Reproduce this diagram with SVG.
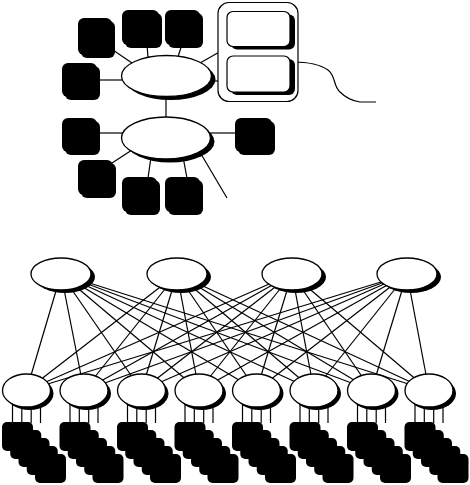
<svg xmlns="http://www.w3.org/2000/svg" xmlns:xlink="http://www.w3.org/1999/xlink" width="470" height="485" viewBox="0 0 470 485">
<style>
.bg{fill:#fff}
.ln{stroke:#000;stroke-width:1.2;fill:none}
.sh{fill:#000}
.body{fill:#fff;stroke:#000;stroke-width:1.3}
.blk{fill:#000}
.frame{fill:#fff;stroke:#000;stroke-width:1.2}
</style>
<defs>
<g id="stack">
<rect x="33" y="32" width="31" height="29" rx="5" class="blk"/>
<rect x="24.75" y="24" width="31" height="29" rx="5" class="blk"/>
<rect x="16.5" y="16" width="31" height="29" rx="5" class="blk"/>
<rect x="8.25" y="8" width="31" height="29" rx="5" class="blk"/>
<rect x="0" y="0" width="31" height="29" rx="5" class="blk"/>
</g>
<g id="leaf">
<line x1="-14" y1="400" x2="-14" y2="423" class="ln"/>
<line x1="-4.7" y1="400" x2="-4.7" y2="423" class="ln"/>
<line x1="4.7" y1="400" x2="4.7" y2="423" class="ln"/>
<line x1="14" y1="400" x2="14" y2="423" class="ln"/>
<ellipse cx="3" cy="393.5" rx="24" ry="16.5" class="sh"/>
<ellipse cx="0" cy="390.5" rx="24" ry="16.5" class="body"/>
<use xlink:href="#stack" x="-24.5" y="422"/>
</g>
<g id="hub">
<ellipse cx="4" cy="3" rx="30" ry="16" class="sh"/>
<ellipse cx="0" cy="0" rx="30" ry="16" class="body"/>
</g>
</defs>
<rect width="470" height="485" class="bg"/>

<g id="connectors">
<line x1="110" y1="48" x2="132" y2="63" class="ln"/>
<line x1="147" y1="44" x2="148" y2="58" class="ln"/>
<line x1="182" y1="44" x2="178" y2="57" class="ln"/>
<line x1="96" y1="80" x2="123" y2="80" class="ln"/>
<line x1="200" y1="63" x2="230" y2="46" class="ln"/>
<line x1="210" y1="81" x2="228" y2="81" class="ln"/>
<path d="M293,62 C303,62 318,63 328,70 C336,76 333,86 340,92 C346,98 352,101 360,102 L376,102" class="ln"/>
<line x1="166" y1="94" x2="166" y2="120" class="ln"/>
<line x1="96" y1="133" x2="123" y2="133" class="ln"/>
<line x1="210" y1="133" x2="238" y2="133" class="ln"/>
<line x1="112" y1="163" x2="132" y2="150" class="ln"/>
<line x1="148" y1="178" x2="151" y2="157" class="ln"/>
<line x1="187" y1="178" x2="183" y2="157" class="ln"/>
<line x1="201" y1="154" x2="227" y2="198" class="ln"/>

<g id="mesh">
<line x1="61" y1="274" x2="26.5" y2="390.5" class="ln"/>
<line x1="61" y1="274" x2="84" y2="390.5" class="ln"/>
<line x1="61" y1="274" x2="141.5" y2="390.5" class="ln"/>
<line x1="61" y1="274" x2="199" y2="390.5" class="ln"/>
<line x1="61" y1="274" x2="256.5" y2="390.5" class="ln"/>
<line x1="61" y1="274" x2="314" y2="390.5" class="ln"/>
<line x1="61" y1="274" x2="371.5" y2="390.5" class="ln"/>
<line x1="61" y1="274" x2="429" y2="390.5" class="ln"/>
<line x1="177" y1="274" x2="26.5" y2="390.5" class="ln"/>
<line x1="177" y1="274" x2="84" y2="390.5" class="ln"/>
<line x1="177" y1="274" x2="141.5" y2="390.5" class="ln"/>
<line x1="177" y1="274" x2="199" y2="390.5" class="ln"/>
<line x1="177" y1="274" x2="256.5" y2="390.5" class="ln"/>
<line x1="177" y1="274" x2="314" y2="390.5" class="ln"/>
<line x1="177" y1="274" x2="371.5" y2="390.5" class="ln"/>
<line x1="177" y1="274" x2="429" y2="390.5" class="ln"/>
<line x1="292" y1="274" x2="26.5" y2="390.5" class="ln"/>
<line x1="292" y1="274" x2="84" y2="390.5" class="ln"/>
<line x1="292" y1="274" x2="141.5" y2="390.5" class="ln"/>
<line x1="292" y1="274" x2="199" y2="390.5" class="ln"/>
<line x1="292" y1="274" x2="256.5" y2="390.5" class="ln"/>
<line x1="292" y1="274" x2="314" y2="390.5" class="ln"/>
<line x1="292" y1="274" x2="371.5" y2="390.5" class="ln"/>
<line x1="292" y1="274" x2="429" y2="390.5" class="ln"/>
<line x1="407" y1="274" x2="26.5" y2="390.5" class="ln"/>
<line x1="407" y1="274" x2="84" y2="390.5" class="ln"/>
<line x1="407" y1="274" x2="141.5" y2="390.5" class="ln"/>
<line x1="407" y1="274" x2="199" y2="390.5" class="ln"/>
<line x1="407" y1="274" x2="256.5" y2="390.5" class="ln"/>
<line x1="407" y1="274" x2="314" y2="390.5" class="ln"/>
<line x1="407" y1="274" x2="371.5" y2="390.5" class="ln"/>
<line x1="407" y1="274" x2="429" y2="390.5" class="ln"/>
</g>
</g>

<!-- top cluster -->
<g id="hubA">
<ellipse cx="170.5" cy="79.5" rx="45" ry="20.5" class="sh"/>
<ellipse cx="166.5" cy="76" rx="45" ry="20.5" class="body"/>
</g>
<g id="hubB">
<ellipse cx="170" cy="141.5" rx="44.5" ry="21" class="sh"/>
<ellipse cx="166" cy="138" rx="44.5" ry="21" class="body"/>
</g>
<g id="boxA"><rect x="81" y="21" width="34" height="37" rx="6" class="blk"/><rect x="78" y="18" width="34" height="37" rx="6" class="blk"/></g>
<g id="boxB"><rect x="125" y="13" width="37" height="35" rx="6" class="blk"/><rect x="122" y="10" width="37" height="35" rx="6" class="blk"/></g>
<g id="boxC"><rect x="168" y="13" width="35" height="35" rx="6" class="blk"/><rect x="165" y="10" width="35" height="35" rx="6" class="blk"/></g>
<g id="boxD"><rect x="65" y="66" width="35" height="34" rx="6" class="blk"/><rect x="62" y="63" width="35" height="34" rx="6" class="blk"/></g>
<g id="boxE"><rect x="65" y="121" width="35" height="34" rx="6" class="blk"/><rect x="62" y="118" width="35" height="34" rx="6" class="blk"/></g>
<g id="boxF"><rect x="238" y="121" width="37" height="34" rx="6" class="blk"/><rect x="235" y="118" width="37" height="34" rx="6" class="blk"/></g>
<g id="boxG"><rect x="81" y="163" width="35" height="35" rx="6" class="blk"/><rect x="78" y="160" width="35" height="35" rx="6" class="blk"/></g>
<g id="boxH"><rect x="125" y="180" width="35" height="35" rx="6" class="blk"/><rect x="122" y="177" width="35" height="35" rx="6" class="blk"/></g>
<g id="boxI"><rect x="168" y="180" width="35" height="35" rx="6" class="blk"/><rect x="165" y="177" width="35" height="35" rx="6" class="blk"/></g>

<g id="enclosure">
<rect x="218" y="2.5" width="80" height="99" rx="11" class="frame"/>
<g id="innerTop">
<rect x="231" y="14.5" width="64" height="35" rx="6" class="blk"/>
<rect x="227" y="11.5" width="63" height="35" rx="6" class="frame"/>
</g>
<g id="innerBottom">
<rect x="231" y="59" width="64" height="36" rx="6" class="blk"/>
<rect x="227" y="56" width="63" height="36" rx="6" class="frame"/>
</g>
</g>

<!-- bottom cluster -->
<g id="core1"><use xlink:href="#hub" x="61" y="274"/></g>
<g id="core2"><use xlink:href="#hub" x="177" y="274"/></g>
<g id="core3"><use xlink:href="#hub" x="292" y="274"/></g>
<g id="core4"><use xlink:href="#hub" x="407" y="274"/></g>

<g id="leaf1"><use xlink:href="#leaf" x="26.5" y="0"/></g>
<g id="leaf2"><use xlink:href="#leaf" x="84" y="0"/></g>
<g id="leaf3"><use xlink:href="#leaf" x="141.5" y="0"/></g>
<g id="leaf4"><use xlink:href="#leaf" x="199" y="0"/></g>
<g id="leaf5"><use xlink:href="#leaf" x="256.5" y="0"/></g>
<g id="leaf6"><use xlink:href="#leaf" x="314" y="0"/></g>
<g id="leaf7"><use xlink:href="#leaf" x="371.5" y="0"/></g>
<g id="leaf8"><use xlink:href="#leaf" x="429" y="0"/></g>
</svg>
